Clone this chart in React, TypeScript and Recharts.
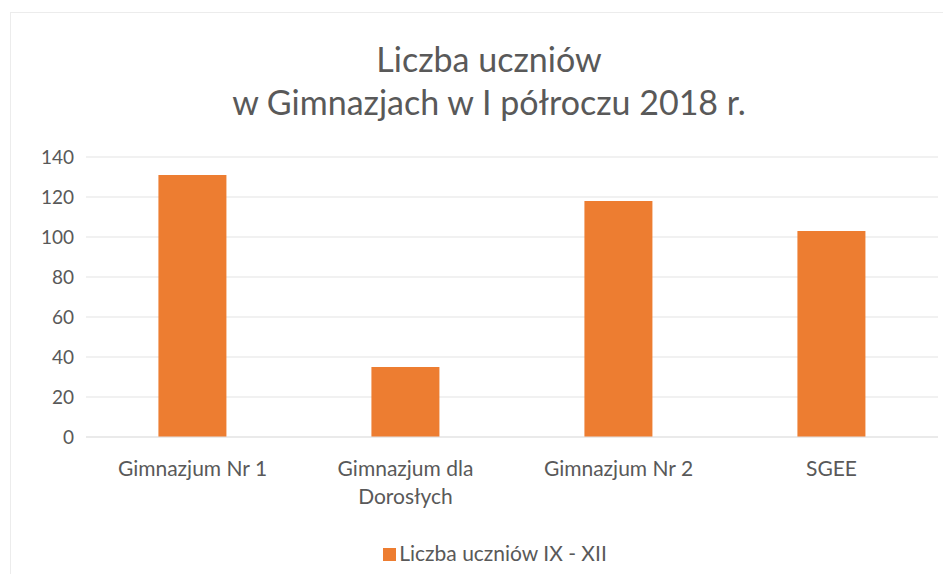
import React from "react"
import { BarChart, Bar, XAxis, YAxis, CartesianGrid, Text } from "recharts"

const categories = ["Gimnazjum Nr 1", "Gimnazjum dla Dorosłych", "Gimnazjum Nr 2", "SGEE"]
const students = [131, 35, 118, 103]
const yTicks = [0, 20, 40, 60, 80, 100, 120, 140]
const seriesName = "Liczba uczniów IX - XII"
const titleLines = ["Liczba uczniów", "w Gimnazjach w I półroczu 2018 r."]

const BAR_COLOR = "#ed7d31"
const TEXT_COLOR = "#595959"
const FONT = "Lato, 'Open Sans', sans-serif"

const data = categories.map((name, i) => ({ name, value: students[i] }))

// wraps long category names like Excel does
const CategoryTick = ({ x, y, payload }: any) => (
  <Text
    x={x}
    y={y}
    width={170}
    textAnchor="middle"
    verticalAnchor="start"
    fill={TEXT_COLOR}
    style={{ fontSize: 21, fontFamily: FONT }}
    lineHeight={28}
  >
    {payload.value}
  </Text>
)

export default function App() {
  return (
    <div
      style={{
        position: "relative",
        width: 951,
        height: 582,
        margin: -8,
        background: "#fff",
        fontFamily: FONT,
        overflow: "hidden",
      }}
    >
      <div
        style={{
          position: "absolute",
          left: 10,
          top: 12,
          right: 0,
          bottom: 0,
          borderTop: "1px solid #ececec",
          borderLeft: "1px solid #ececec",
        }}
      />
      <div
        style={{
          position: "absolute",
          left: 0,
          width: 978,
          top: 37,
          textAlign: "center",
          color: TEXT_COLOR,
          fontSize: 34,
          lineHeight: "43px",
        }}
      >
        {titleLines.map((t) => (
          <div key={t}>{t}</div>
        ))}
      </div>
      <BarChart
        width={951}
        height={582}
        data={data}
        margin={{ top: 157, right: 13, bottom: 115, left: 0 }}
        barCategoryGap="34%"
        style={{ position: "absolute", left: 0, top: 0 }}
      >
        <CartesianGrid vertical={false} stroke="#e3e3e3" />
        <YAxis
          width={86}
          domain={[0, 140]}
          ticks={yTicks}
          axisLine={false}
          tickLine={false}
          tickSize={0}
          tickMargin={12}
          tick={{ fill: TEXT_COLOR, fontSize: 19, fontFamily: FONT }}
        />
        <XAxis
          dataKey="name"
          axisLine={{ stroke: "#e3e3e3" }}
          tickLine={false}
          tickSize={0}
          tickMargin={24}
          interval={0}
          tick={<CategoryTick />}
        />
        <Bar dataKey="value" name={seriesName} fill={BAR_COLOR} isAnimationActive={false} />
      </BarChart>
      <div
        style={{
          position: "absolute",
          left: 0,
          width: 990,
          top: 539,
          textAlign: "center",
          color: TEXT_COLOR,
          fontSize: 21,
          lineHeight: "28px",
        }}
      >
        <span
          style={{
            display: "inline-block",
            width: 13,
            height: 13,
            background: BAR_COLOR,
            marginRight: 3,
          }}
        />
        {seriesName}
      </div>
    </div>
  )
}
